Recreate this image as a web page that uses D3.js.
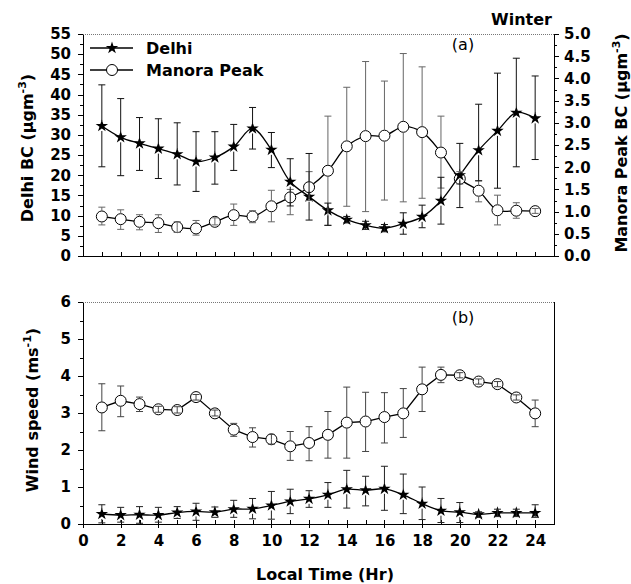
<!DOCTYPE html>
<html>
<head>
<meta charset="utf-8">
<script src="https://cdn.jsdelivr.net/npm/d3@7"></script>
<style>
  body { margin: 0; background: #fff; }
  svg text { font-family: "DejaVu Sans", sans-serif; font-weight: bold; fill: #000; }
  .axis path, .axis line { stroke: #000; shape-rendering: crispEdges; }
</style>
</head>
<body>
<div id="chart"></div>
<script>
// hours of the day
var hours = d3.range(1, 25);

// (a) black carbon, Delhi (left axis, ugm-3)
var delhiBC    = [32.2, 29.4, 27.9, 26.6, 25.2, 23.4, 24.4, 27.1, 31.6, 26.3, 18.4, 14.7, 11.3, 9.0, 7.6, 6.9, 8.0, 9.7, 13.7, 20.0, 26.2, 31.0, 35.5, 34.1];
var delhiBCLo  = [22.1, 19.9, 21.2, 19.2, 17.6, 16.0, 17.8, 21.2, 26.5, 21.9, 12.4, 8.9, 7.6, 8.2, 6.6, 6.0, 5.4, 7.0, 7.9, 12.0, 18.6, 16.8, 22.1, 23.9];
var delhiBCHi  = [42.4, 39.0, 34.3, 34.0, 33.0, 30.8, 30.8, 32.6, 36.8, 30.6, 24.1, 25.4, 13.1, 9.8, 8.6, 7.8, 10.7, 12.6, 19.5, 27.9, 37.6, 45.3, 49.0, 44.6];

// (a) black carbon, Manora Peak (right axis, ugm-3)
var manoraBC   = [0.89, 0.83, 0.77, 0.74, 0.65, 0.62, 0.77, 0.92, 0.89, 1.12, 1.32, 1.55, 1.92, 2.47, 2.70, 2.71, 2.91, 2.79, 2.33, 1.74, 1.47, 1.03, 1.02, 1.01];
var manoraBCLo = [0.70, 0.60, 0.59, 0.53, 0.53, 0.47, 0.70, 0.69, 0.75, 0.77, 0.93, 1.25, 0.69, 1.12, 1.00, 1.26, 1.22, 1.30, 1.53, 1.62, 1.22, 0.70, 0.85, 0.96];
var manoraBCHi = [1.10, 1.04, 0.93, 0.93, 0.77, 0.80, 0.86, 1.17, 1.02, 1.48, 1.50, 1.90, 3.15, 3.80, 4.38, 3.94, 4.56, 4.26, 3.15, 1.90, 1.70, 1.37, 1.20, 1.07];

// (b) wind speed (ms-1)
var delhiWS    = [0.27, 0.24, 0.25, 0.24, 0.31, 0.34, 0.32, 0.40, 0.41, 0.50, 0.61, 0.68, 0.79, 0.94, 0.91, 0.95, 0.79, 0.55, 0.36, 0.32, 0.26, 0.30, 0.30, 0.30];
var delhiWSLo  = [0.03, 0.05, 0.02, 0.05, 0.15, 0.10, 0.18, 0.18, 0.14, 0.13, 0.28, 0.45, 0.45, 0.43, 0.49, 0.37, 0.28, 0.12, 0.04, 0.04, 0.18, 0.20, 0.20, 0.18];
var delhiWSHi  = [0.52, 0.45, 0.47, 0.45, 0.47, 0.56, 0.46, 0.64, 0.69, 0.88, 0.94, 0.90, 1.12, 1.45, 1.29, 1.56, 1.35, 1.00, 0.69, 0.58, 0.33, 0.40, 0.40, 0.52];
var manoraWS   = [3.15, 3.33, 3.24, 3.10, 3.08, 3.43, 2.99, 2.55, 2.35, 2.29, 2.10, 2.19, 2.41, 2.74, 2.77, 2.89, 2.99, 3.64, 4.03, 4.02, 3.85, 3.78, 3.42, 2.99];
var manoraWSLo = [2.52, 2.90, 3.04, 3.02, 3.00, 3.35, 2.92, 2.37, 2.08, 2.16, 1.72, 1.71, 1.78, 1.78, 1.96, 2.19, 2.34, 3.04, 3.82, 3.95, 3.78, 3.71, 3.35, 2.63];
var manoraWSHi = [3.79, 3.73, 3.43, 3.18, 3.17, 3.50, 3.08, 2.72, 2.60, 2.42, 2.50, 2.63, 3.04, 3.70, 3.56, 3.55, 3.66, 4.24, 4.24, 4.09, 3.92, 3.85, 3.49, 3.35];

var xTicks = d3.range(0, 25, 2);

function rows(m, lo, hi) {
    return hours.map(function(h, i) { return {h: h, v: m[i], lo: lo[i], hi: hi[i]}; });
}

var svg = d3.select("#chart").append("svg")
    .attr("width", 631)
    .attr("height", 584);

var x = d3.scaleLinear().domain([0, 25]).range([83, 554]);
var yTop = d3.scaleLinear().domain([0, 55]).range([256, 34]);
var yRight = d3.scaleLinear().domain([0, 5]).range([256, 34]);
var yBot = d3.scaleLinear().domain([0, 6]).range([524, 302]);

var starSym = d3.symbol().type(d3.symbolStar).size(48);
var R = 5.5;   // circle radius
var RS = 5;    // star "radius" for error stems

// frame: dotted top line, solid right line
function frame(y, solidRight) {
    var top = y.range()[1], bot = y.range()[0];
    svg.append("line")
        .attr("x1", x(0)).attr("x2", x(25))
        .attr("y1", top + 0.5).attr("y2", top + 0.5)
        .attr("stroke", "#777").attr("stroke-dasharray", "1,1");
    if (solidRight) {
        svg.append("line")
            .attr("x1", x(25) + 0.5).attr("x2", x(25) + 0.5)
            .attr("y1", top).attr("y2", bot)
            .attr("stroke", "#000");
    }
}

function xAxis(y, withLabels) {
    var bot = y.range()[0];
    // minor ticks every hour pointing inward
    svg.append("g").attr("class", "axis")
        .attr("transform", "translate(0," + bot + ")")
        .call(d3.axisTop(x).tickValues(d3.range(0, 25)).tickSize(4).tickFormat(""))
        .call(function(g) { g.select(".domain").remove(); });
    var ax = d3.axisBottom(x).tickValues(xTicks).tickSize(withLabels ? 4 : 0).tickPadding(7).tickSizeOuter(0);
    if (!withLabels) ax.tickFormat("");
    var g = svg.append("g").attr("class", "axis")
        .attr("transform", "translate(0," + bot + ")")
        .call(ax);
    g.select(".domain").attr("d", "M" + x(0) + ",0.5H" + (x(25) + 1));
    g.selectAll("text").style("font-size", "15px");
}

function yAxis(y, side, step, fmt) {
    var d = y.domain();
    var minor = d3.range(d[0], d[1] + 1e-9, step / 2);
    var major = d3.range(d[0], d[1] + 1e-9, step);
    var pos = side === "left" ? x(0) : x(25);
    var mk = side === "left" ? d3.axisLeft : d3.axisRight;
    svg.append("g").attr("class", "axis")
        .attr("transform", "translate(" + pos + ",0)")
        .call(mk(y).tickValues(minor).tickSize(3).tickFormat("").tickSizeOuter(0));
    var g = svg.append("g").attr("class", "axis")
        .attr("transform", "translate(" + pos + ",0)")
        .call(mk(y).tickValues(major).tickSize(5).tickPadding(side === "left" ? 7 : 5).tickFormat(fmt).tickSizeOuter(0));
    g.selectAll("text").style("font-size", "15px");
}

function errorBars(data, xs, ys, r, color) {
    var cap = 3.5;
    var g = svg.append("g").attr("stroke", color).attr("stroke-width", 1);
    data.forEach(function(d) {
        var cx = xs(d.h), cy = ys(d.v), yHi = ys(d.hi), yLo = ys(d.lo);
        // stems start at the symbol edge, unless the bar is shorter than the symbol
        g.append("line").attr("x1", cx).attr("x2", cx).attr("y1", yHi)
            .attr("y2", cy - yHi > r ? cy - r : cy);
        g.append("line").attr("x1", cx).attr("x2", cx).attr("y2", yLo)
            .attr("y1", yLo - cy > r ? cy + r : cy);
        g.append("line").attr("x1", cx - cap).attr("x2", cx + cap).attr("y1", yHi).attr("y2", yHi);
        g.append("line").attr("x1", cx - cap).attr("x2", cx + cap).attr("y1", yLo).attr("y2", yLo);
    });
}

function series(data, ys, kind, curve) {
    var line = d3.line()
        .curve(curve)
        .x(function(d) { return x(d.h); })
        .y(function(d) { return ys(d.v); });
    svg.append("path")
        .datum(data)
        .attr("d", line)
        .attr("fill", "none")
        .attr("stroke", "#000")
        .attr("stroke-width", 1.3);
    if (kind === "star") {
        svg.append("g").selectAll("path")
            .data(data).enter().append("path")
            .attr("d", starSym)
            .attr("transform", function(d) { return "translate(" + x(d.h) + "," + ys(d.v) + ")"; })
            .attr("fill", "#000");
    } else {
        svg.append("g").selectAll("circle")
            .data(data).enter().append("circle")
            .attr("cx", function(d) { return x(d.h); })
            .attr("cy", function(d) { return ys(d.v); })
            .attr("r", R)
            .attr("fill", "#fff")
            .attr("stroke", "#000");
    }
}

// ---------- panel (a) ----------
frame(yTop, false);
xAxis(yTop, false);
yAxis(yTop, "left", 5, d3.format("d"));
yAxis(yRight, "right", 0.5, d3.format(".1f"));

var dBC = rows(delhiBC, delhiBCLo, delhiBCHi);
var mBC = rows(manoraBC, manoraBCLo, manoraBCHi);
series(mBC, yRight, "circle", d3.curveCatmullRom);
series(dBC, yTop, "star", d3.curveCatmullRom);
errorBars(mBC, x, yRight, R, "#666");
errorBars(dBC, x, yTop, RS, "#111");

// ---------- panel (b) ----------
frame(yBot, true);
xAxis(yBot, true);
yAxis(yBot, "left", 1, d3.format("d"));

var dWS = rows(delhiWS, delhiWSLo, delhiWSHi);
var mWS = rows(manoraWS, manoraWSLo, manoraWSHi);
series(mWS, yBot, "circle", d3.curveLinear);
series(dWS, yBot, "star", d3.curveCatmullRom);
errorBars(mWS, x, yBot, R, "#444");
errorBars(dWS, x, yBot, RS, "#222");

// ---------- legend ----------
var legend = [{name: "Delhi", kind: "star", y: 48}, {name: "Manora Peak", kind: "circle", y: 70}];
legend.forEach(function(l) {
    svg.append("line").attr("x1", 90).attr("x2", 133).attr("y1", l.y).attr("y2", l.y)
        .attr("stroke", "#000").attr("stroke-width", 1.3);
    if (l.kind === "star") {
        svg.append("path").attr("d", starSym).attr("transform", "translate(112," + l.y + ")").attr("fill", "#000");
    } else {
        svg.append("circle").attr("cx", 112).attr("cy", l.y).attr("r", R).attr("fill", "#fff").attr("stroke", "#000");
    }
    svg.append("text").attr("x", 146).attr("y", l.y + 6).style("font-size", "16px").text(l.name);
});

// ---------- labels ----------
svg.append("text").attr("x", 552).attr("y", 25).attr("text-anchor", "end")
    .style("font-size", "16px").text("Winter");
svg.append("text").attr("x", 463).attr("y", 50).attr("text-anchor", "middle")
    .style("font-size", "16px").style("font-weight", "normal").text("(a)");
svg.append("text").attr("x", 463).attr("y", 323).attr("text-anchor", "middle")
    .style("font-size", "16px").style("font-weight", "normal").text("(b)");

function yTitle(cx, cy, main, sup, tail) {
    var t = svg.append("text")
        .attr("transform", "translate(" + cx + "," + cy + ") rotate(-90)")
        .attr("text-anchor", "middle")
        .style("font-size", "16px");
    t.append("tspan").text(main);
    t.append("tspan").attr("dy", -7).style("font-size", "11px").text(sup);
    t.append("tspan").attr("dy", 7).text(tail);
}
yTitle(33, 148, "Delhi BC (\u00b5gm", "-3", ")");
yTitle(627, 143, "Manora Peak BC (\u00b5gm", "-3", ")");
yTitle(38, 410, "Wind speed (ms", "-1", ")");

svg.append("text").attr("x", 325).attr("y", 580).attr("text-anchor", "middle")
    .style("font-size", "16px").text("Local Time (Hr)");
</script>
</body>
</html>
